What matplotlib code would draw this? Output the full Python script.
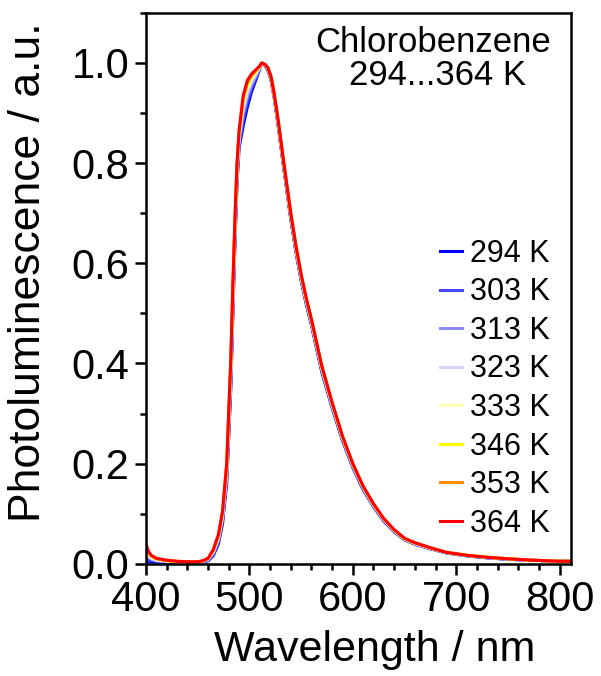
import matplotlib
matplotlib.use("Agg")
import matplotlib.pyplot as plt
from matplotlib.ticker import MultipleLocator

plt.rcParams["font.family"] = ["Liberation Sans", "DejaVu Sans"]

# wavelength grid (nm) shared by all spectra
wavelength = [400, 402, 405, 410, 420, 430, 440, 450, 455, 460,
              465, 470, 474, 478, 482, 484, 486, 488, 490, 494,
              498, 502, 506, 510, 512, 515, 518, 521, 524, 528,
              532, 536, 540, 545, 550, 555, 560, 570, 580, 590,
              600, 610, 620, 630, 640, 650, 660, 675, 690, 710,
              730, 750, 775, 800, 811]

pl_294 = [0.005, 0.004, 0.004, 0.003, 0.003, 0.002, 0.002, 0.002, 0.003, 0.006,
          0.016, 0.040, 0.080, 0.160, 0.350, 0.500, 0.640, 0.760, 0.830, 0.875,
          0.912, 0.942, 0.965, 0.988, 1.000, 0.995, 0.985, 0.965, 0.930, 0.872,
          0.808, 0.748, 0.688, 0.622, 0.565, 0.518, 0.476, 0.383, 0.311, 0.246,
          0.192, 0.148, 0.114, 0.085, 0.064, 0.048, 0.039, 0.030, 0.022, 0.016,
          0.012, 0.009, 0.007, 0.005, 0.005]
pl_303 = [0.012, 0.008, 0.007, 0.005, 0.004, 0.003, 0.002, 0.002, 0.004, 0.007,
          0.018, 0.044, 0.085, 0.168, 0.362, 0.512, 0.650, 0.768, 0.837, 0.887,
          0.923, 0.949, 0.969, 0.989, 1.000, 0.995, 0.986, 0.966, 0.932, 0.874,
          0.810, 0.750, 0.690, 0.625, 0.568, 0.520, 0.478, 0.385, 0.313, 0.248,
          0.194, 0.149, 0.115, 0.086, 0.065, 0.049, 0.040, 0.030, 0.022, 0.016,
          0.012, 0.009, 0.007, 0.005, 0.005]
pl_313 = [0.019, 0.013, 0.009, 0.006, 0.005, 0.003, 0.003, 0.003, 0.004, 0.008,
          0.021, 0.047, 0.090, 0.176, 0.374, 0.524, 0.660, 0.776, 0.844, 0.899,
          0.933, 0.956, 0.973, 0.990, 1.000, 0.996, 0.987, 0.968, 0.933, 0.876,
          0.813, 0.753, 0.693, 0.627, 0.570, 0.523, 0.481, 0.388, 0.315, 0.250,
          0.195, 0.151, 0.116, 0.087, 0.066, 0.049, 0.040, 0.031, 0.022, 0.016,
          0.012, 0.009, 0.007, 0.005, 0.005]
pl_323 = [0.024, 0.016, 0.011, 0.007, 0.005, 0.004, 0.003, 0.003, 0.005, 0.009,
          0.023, 0.050, 0.094, 0.182, 0.383, 0.533, 0.668, 0.782, 0.849, 0.908,
          0.941, 0.962, 0.977, 0.991, 1.000, 0.996, 0.988, 0.969, 0.934, 0.878,
          0.815, 0.755, 0.695, 0.629, 0.572, 0.525, 0.483, 0.390, 0.317, 0.251,
          0.196, 0.152, 0.117, 0.088, 0.066, 0.050, 0.041, 0.031, 0.023, 0.017,
          0.013, 0.010, 0.007, 0.005, 0.005]
pl_333 = [0.030, 0.019, 0.013, 0.009, 0.006, 0.004, 0.003, 0.003, 0.005, 0.010,
          0.024, 0.053, 0.098, 0.188, 0.392, 0.542, 0.675, 0.788, 0.855, 0.917,
          0.949, 0.967, 0.980, 0.992, 1.000, 0.996, 0.989, 0.970, 0.936, 0.880,
          0.816, 0.756, 0.696, 0.631, 0.574, 0.526, 0.484, 0.391, 0.319, 0.252,
          0.198, 0.153, 0.118, 0.089, 0.067, 0.050, 0.041, 0.031, 0.023, 0.017,
          0.013, 0.010, 0.007, 0.005, 0.005]
pl_346 = [0.034, 0.022, 0.015, 0.010, 0.006, 0.004, 0.004, 0.004, 0.005, 0.010,
          0.026, 0.055, 0.101, 0.193, 0.399, 0.549, 0.681, 0.793, 0.859, 0.924,
          0.955, 0.972, 0.982, 0.993, 1.000, 0.997, 0.989, 0.971, 0.937, 0.881,
          0.818, 0.758, 0.698, 0.633, 0.576, 0.528, 0.486, 0.393, 0.320, 0.253,
          0.199, 0.154, 0.119, 0.089, 0.067, 0.050, 0.041, 0.032, 0.023, 0.017,
          0.013, 0.010, 0.007, 0.005, 0.005]
pl_353 = [0.037, 0.024, 0.016, 0.010, 0.007, 0.005, 0.004, 0.004, 0.006, 0.011,
          0.027, 0.057, 0.103, 0.197, 0.405, 0.555, 0.686, 0.797, 0.862, 0.930,
          0.961, 0.975, 0.984, 0.994, 1.000, 0.997, 0.990, 0.971, 0.937, 0.882,
          0.819, 0.759, 0.699, 0.634, 0.577, 0.529, 0.487, 0.394, 0.321, 0.254,
          0.199, 0.154, 0.119, 0.090, 0.068, 0.051, 0.042, 0.032, 0.023, 0.017,
          0.013, 0.010, 0.007, 0.005, 0.005]
pl_364 = [0.040, 0.026, 0.017, 0.011, 0.007, 0.005, 0.004, 0.004, 0.006, 0.011,
          0.028, 0.058, 0.105, 0.200, 0.410, 0.560, 0.690, 0.800, 0.865, 0.935,
          0.965, 0.978, 0.986, 0.994, 1.000, 0.997, 0.990, 0.972, 0.938, 0.883,
          0.820, 0.760, 0.700, 0.635, 0.578, 0.530, 0.488, 0.395, 0.322, 0.255,
          0.200, 0.155, 0.120, 0.090, 0.068, 0.051, 0.042, 0.032, 0.023, 0.017,
          0.013, 0.010, 0.007, 0.005, 0.005]

temps = ["294 K", "303 K", "313 K", "323 K", "333 K", "346 K", "353 K", "364 K"]
spectra = [pl_294, pl_303, pl_313, pl_323, pl_333, pl_346, pl_353, pl_364]
colors = ["#0000ff", "#4646ff", "#8c8cff", "#d2d2ff",
          "#ffffb4", "#ffff00", "#ff8c00", "#ff0000"]

fig = plt.figure(figsize=(6.01, 6.76), dpi=100)
ax = fig.add_axes([0.243, 0.166, 0.707, 0.815])

for lab, y, c in zip(temps, spectra, colors):
    ax.plot(wavelength, y, color=c, lw=2.2, label=lab)

ax.set_xlim(400, 811)
ax.set_ylim(0, 1.1)
ax.xaxis.set_major_locator(MultipleLocator(100))
ax.xaxis.set_minor_locator(MultipleLocator(20))
ax.yaxis.set_major_locator(MultipleLocator(0.2))
ax.yaxis.set_minor_locator(MultipleLocator(0.1))
ax.yaxis.set_major_formatter(plt.FuncFormatter(lambda v, p: f"{v:.1f}"))

ax.tick_params(which="both", direction="out", width=1.8, top=False, right=False)
ax.tick_params(which="major", length=8, labelsize=30, pad=4)
ax.tick_params(which="minor", length=4)
for s in ax.spines.values():
    s.set_linewidth(1.8)

ax.set_xlabel("Wavelength / nm", fontsize=31)
ax.set_ylabel("Photoluminescence / a.u.", fontsize=32)
ax.xaxis.set_label_coords(0.539, -0.12)
ax.yaxis.set_label_coords(-0.228, 0.53)

ax.text(0.675, 0.947, "Chlorobenzene", transform=ax.transAxes,
        ha="center", va="center", fontsize=25)
ax.text(0.687, 0.887, "294...364 K", transform=ax.transAxes,
        ha="center", va="center", fontsize=25)

ax.legend(loc="upper left", bbox_to_anchor=(0.692, 0.590), frameon=False,
          fontsize=22, handlelength=0.72, handletextpad=0.26,
          labelspacing=0.28, borderpad=0, borderaxespad=0)

fig.savefig("out.png", dpi=100)
